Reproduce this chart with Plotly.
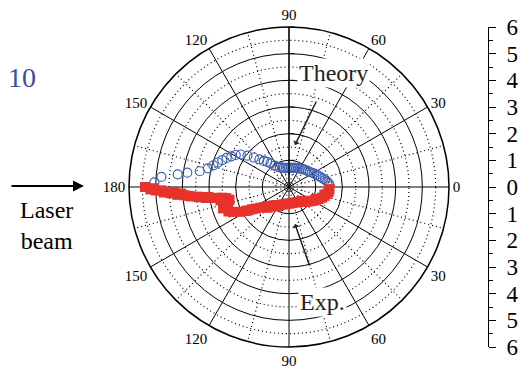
import numpy as np
import plotly.graph_objects as go

# Theory curve (upper half): scattering angle in degrees, radial value
theory_angle = [2, 5, 8, 11, 14, 17, 20, 24, 28, 32, 36, 40, 45, 50, 55, 60, 65, 70, 75,
                80, 85, 90, 95, 100, 105, 110, 115, 120, 124, 128, 131, 134, 137, 140,
                143, 146, 149, 152, 155, 158, 161, 164, 167, 170, 172, 173.5, 175.5, 178]
theory_r = [1.53, 1.50, 1.45, 1.38, 1.31, 1.25, 1.19, 1.13, 1.07, 1.01, 0.96, 0.92, 0.89,
            0.86, 0.83, 0.80, 0.78, 0.76, 0.74, 0.73, 0.72, 0.72, 0.72, 0.73, 0.74, 0.77,
            0.81, 0.87, 0.97, 1.12, 1.25, 1.36, 1.52, 1.72, 1.95, 2.18, 2.33, 2.45, 2.58,
            2.70, 2.82, 2.95, 3.12, 3.40, 3.85, 4.20, 4.80, 5.05]

# Measured values (lower half, angle mirrored below the beam axis)
exp_angle = [3, 7, 10, 14, 18, 22, 26, 30, 35, 40, 45, 50, 56, 62, 70, 78, 86, 94, 102,
             110, 118, 125, 130, 134, 138, 141, 144, 147, 149, 151, 153, 156, 162, 168,
             170, 171, 171.5, 172, 172.5, 173.5, 174.5, 175.5, 176, 177, 177.5, 178.5,
             179, 180,
             12, 24, 38, 48, 122, 136, 150, 158, 166, 169, 173, 174, 175, 176.5, 177.5,
             178.5, 179.5]
exp_r = [1.52, 1.50, 1.46, 1.38, 1.30, 1.20, 1.11, 1.04, 0.94, 0.86, 0.79, 0.73, 0.68,
         0.64, 0.62, 0.61, 0.62, 0.63, 0.66, 0.70, 0.76, 0.83, 0.90, 1.00, 1.10, 1.20,
         1.32, 1.48, 1.62, 1.85, 2.05, 2.30, 2.60, 2.28, 2.40, 2.55, 2.75, 2.95, 3.15,
         3.40, 3.70, 3.95, 4.20, 4.45, 4.70, 5.00, 5.20, 5.40,
         1.36, 1.10, 0.84, 0.70, 0.86, 1.12, 1.75, 2.45, 2.35, 2.62, 3.05, 3.45, 3.80,
         4.05, 4.30, 4.80, 5.10]

angle_ticks = [0, 30, 60, 90, 120, 150, 180, 210, 240, 270, 300, 330]
angle_labels = ["0", "30", "60", "90", "120", "150", "180", "150", "120", "90", "60", "30"]
scale_ticks = [-6, -5, -4, -3, -2, -1, 0, 1, 2, 3, 4, 5, 6]

SERIF = "Times New Roman, Liberation Serif, serif"
R_MAX = 6
W, H = 529, 368
DOT = "1px,3px"


def px(x):
    return x / W


def py(y):
    return 1 - y / H


fig = go.Figure()

# dotted minor grid: half-step circles and spokes between the 30-degree lines
ring_theta = np.arange(0, 361, 1)
for rr in np.arange(0.5, R_MAX, 1.0):
    fig.add_trace(go.Scatterpolar(r=[rr] * len(ring_theta), theta=ring_theta, mode="lines",
                                  line=dict(color="black", width=1.2, dash=DOT),
                                  hoverinfo="skip", showlegend=False))
for a in range(15, 360, 30):
    fig.add_trace(go.Scatterpolar(r=[0, R_MAX], theta=[a, a], mode="lines",
                                  line=dict(color="black", width=1.2, dash=DOT),
                                  hoverinfo="skip", showlegend=False))

fig.add_trace(go.Scatterpolar(
    r=theory_r, theta=theory_angle, mode="markers", name="Theory",
    marker=dict(symbol="circle-open", size=9, color="#3f5fb5", line=dict(width=1.2)),
    showlegend=False))
fig.add_trace(go.Scatterpolar(
    r=exp_r, theta=[-a for a in exp_angle], mode="markers", name="Exp.",
    marker=dict(symbol="square", size=10, color="#e8322b", line=dict(width=0)),
    showlegend=False))

# hidden trace that carries the vertical radial scale
fig.add_trace(go.Scatter(x=[0], y=[0], mode="markers", marker=dict(opacity=0),
                         hoverinfo="skip", showlegend=False, xaxis="x", yaxis="y"))

fig.update_layout(
    width=W, height=H,
    margin=dict(l=0, r=0, t=0, b=0, autoexpand=False),
    paper_bgcolor="white", plot_bgcolor="rgba(0,0,0,0)",
    polar=dict(
        domain=dict(x=[129 / W, 449 / W], y=[21 / H, 341 / H]),
        bgcolor="white",
        radialaxis=dict(range=[0, R_MAX], tickvals=[1, 2, 3, 4, 5, 6], showticklabels=False,
                        angle=90, showline=True, linecolor="black", linewidth=1.2,
                        ticks="outside", ticklen=5, tickcolor="black",
                        showgrid=True, gridcolor="black", gridwidth=1.2),
        angularaxis=dict(tickvals=angle_ticks, ticktext=angle_labels,
                         rotation=0, direction="counterclockwise",
                         showline=True, linecolor="black", linewidth=1.5,
                         ticks="", showgrid=True, gridcolor="black", gridwidth=1.2,
                         tickfont=dict(family=SERIF, size=15, color="black")),
    ),
    xaxis=dict(domain=[0, 0.5], visible=False, range=[-1, 1]),
    yaxis=dict(domain=[21 / H, 341 / H], range=[-6, 6], anchor="free", position=488 / W,
               side="right", automargin=False,
               tickvals=scale_ticks, ticktext=[str(abs(v)) for v in scale_ticks],
               showline=True, linecolor="black", linewidth=1,
               ticks="outside", ticklen=7, tickcolor="black", showgrid=False, zeroline=False,
               ticklabelstandoff=6,
               minor=dict(tickvals=[v + 0.5 for v in range(-6, 6)], ticks="outside",
                          ticklen=4, tickcolor="black"),
               tickfont=dict(family=SERIF, size=23, color="black")),
)

common = dict(xref="paper", yref="paper", xanchor="center", yanchor="middle")
fig.add_annotation(x=px(22), y=py(77), text="10", showarrow=False,
                   font=dict(family=SERIF, size=28, color="#3b4ea0"), **common)
fig.add_annotation(x=px(46), y=py(226), text="Laser<br>beam", showarrow=False,
                   align="center", font=dict(family=SERIF, size=24, color="black"), **common)
fig.add_annotation(x=px(84), y=py(186), axref="pixel", ayref="pixel", ax=-74, ay=0,
                   text="", showarrow=True, arrowhead=2, arrowsize=1, arrowwidth=2.2,
                   arrowcolor="black", **common)
fig.add_annotation(x=px(333), y=py(73), text="Theory", showarrow=False, bgcolor="white",
                   font=dict(family=SERIF, size=24, color="#222"), **common)
fig.add_annotation(x=px(295), y=py(145), axref="pixel", ayref="pixel", ax=22, ay=-45,
                   text="", showarrow=True, arrowhead=1, arrowsize=0.8, arrowwidth=1.5,
                   arrowcolor="#222", **common)
fig.add_annotation(x=px(322), y=py(302), text="Exp.", showarrow=False, bgcolor="white",
                   font=dict(family=SERIF, size=24, color="#222"), **common)
fig.add_annotation(x=px(295), y=py(224), axref="pixel", ayref="pixel", ax=15, ay=43,
                   text="", showarrow=True, arrowhead=1, arrowsize=0.8, arrowwidth=1.5,
                   arrowcolor="#222", **common)

fig.write_html("out.html")
